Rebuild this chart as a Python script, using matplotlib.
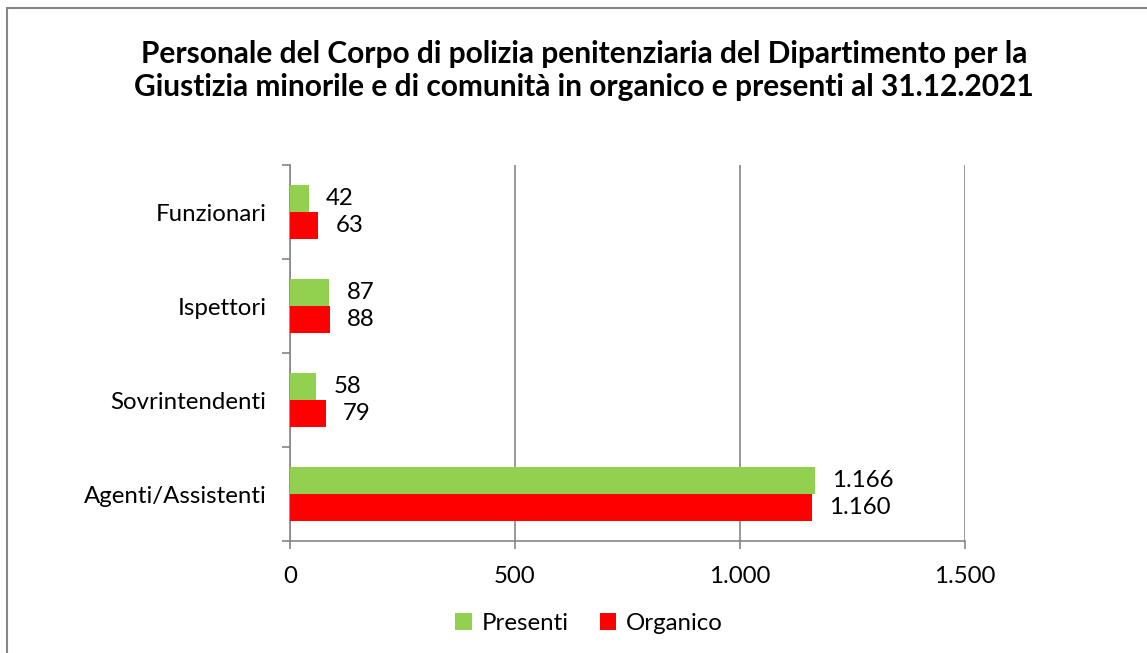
import matplotlib.pyplot as plt
from matplotlib.patches import Rectangle

plt.rcParams['font.family'] = ['Lato', 'DejaVu Sans']

categories = ['Agenti/Assistenti', 'Sovrintendenti', 'Ispettori', 'Funzionari']
presenti = [1166, 58, 87, 42]
organico = [1160, 79, 88, 63]
xticks = [0, 500, 1000, 1500]

title = ('Personale del Corpo di polizia penitenziaria del Dipartimento per la\n'
         'Giustizia minorile e di comunità in organico e presenti al 31.12.2021')


def fmt(v):
    return f'{v:,}'.replace(',', '.')


fig = plt.figure(figsize=(11.47, 6.53), dpi=100)
ax = fig.add_axes([0.2528, 0.1715, 0.5885, 0.5758])

h = 0.287
y = list(range(len(categories)))
grey = '#868686'
fs = 17.3

ax.barh([i + h / 2 for i in y], presenti, height=h, color='#92D050', label='Presenti', zorder=3)
ax.barh([i - h / 2 for i in y], organico, height=h, color='#FF0000', label='Organico', zorder=3)

for i in y:
    ax.annotate(fmt(presenti[i]), (presenti[i], i + h / 2), xytext=(12.5, 0),
                textcoords='offset points', va='center', ha='left', fontsize=fs)
    ax.annotate(fmt(organico[i]), (organico[i], i - h / 2), xytext=(12.5, 0),
                textcoords='offset points', va='center', ha='left', fontsize=fs)

ax.set_xlim(0, 1500)
ax.set_ylim(-0.5, 3.5)
ax.set_xticks(xticks)
ax.set_xticklabels([fmt(v) for v in xticks], fontsize=fs)
ax.set_yticks(y)
ax.set_yticklabels(categories, fontsize=fs)
ax.set_yticks([-0.5, 0.5, 1.5, 2.5, 3.5], minor=True)
ax.tick_params(axis='y', which='major', length=0, pad=17)
ax.tick_params(axis='y', which='minor', length=6, color=grey, width=1.2)
ax.tick_params(axis='x', length=6, color=grey, width=1.2, pad=12)
ax.grid(axis='x', color=grey, linewidth=1.2, zorder=0)

for side in ['top', 'right']:
    ax.spines[side].set_visible(False)
for side in ['left', 'bottom']:
    ax.spines[side].set_color(grey)
    ax.spines[side].set_linewidth(1.2)

fig.text(0.509, 0.892, title, ha='center', va='center', fontsize=21.5,
         fontweight='bold', linespacing=1.25)

ax.legend(loc='center', bbox_to_anchor=(0.443, -0.22), ncol=2, frameon=False,
          fontsize=fs, handlelength=0.7, handleheight=0.7, handletextpad=0.4,
          columnspacing=1.3)

fig.patches.append(Rectangle((0.006, -0.05), 1.2, 1.037, transform=fig.transFigure,
                             fill=False, edgecolor=grey, linewidth=1.5))

fig.savefig('out.png', dpi=100)
